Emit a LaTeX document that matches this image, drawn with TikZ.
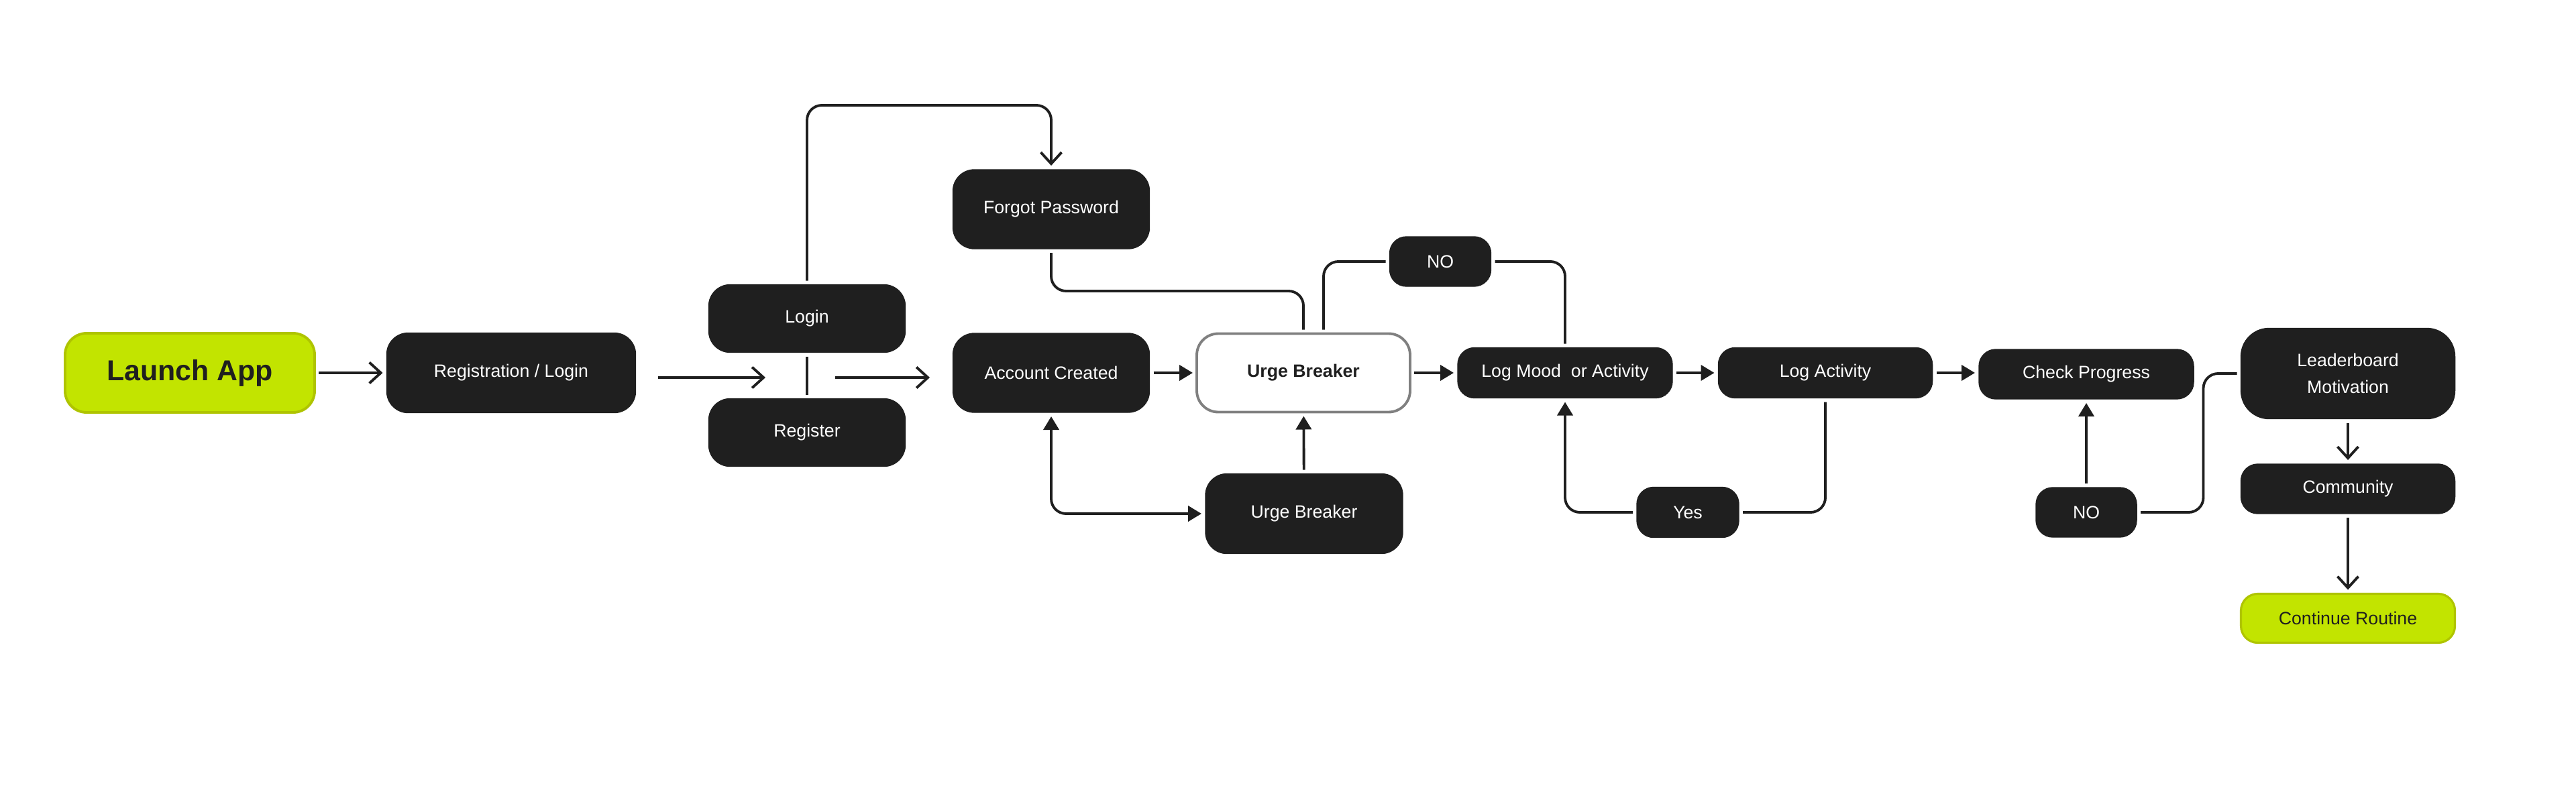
\documentclass[tikz,border=0pt]{standalone}
\usepackage{fontspec}
\setmainfont{Liberation Sans}
\usetikzlibrary{positioning}
\usetikzlibrary{arrows.meta}
\tikzset{
  font={\fontsize{7.6pt}{9pt}\selectfont}
}
\definecolor{boxDark}{HTML}{1F1F1F}
\definecolor{lime}{HTML}{C2E400}
\definecolor{limeEdge}{HTML}{AFC400}
\definecolor{edgeGray}{HTML}{808080}
\def\lineColor{boxDark}
\def\arc{0.22cm}
\tikzstyle{stepbox}=[rounded corners=0.32cm,fill=boxDark,draw=boxDark,text=white,minimum width=2.93cm,minimum height=1.18cm,inner sep=0pt,outer sep=0.06cm]
\tikzstyle{flatbox}=[stepbox,minimum width=3.19cm,minimum height=0.75cm,rounded corners=0.25cm]
\tikzstyle{smallbox}=[stepbox,minimum width=1.51cm,minimum height=0.74cm,rounded corners=0.25cm]
\tikzstyle{greenbox}=[stepbox,fill=lime,draw=limeEdge,line width=1.1pt,text=boxDark]
\tikzstyle{urgebox}=[stepbox,fill=white,draw=edgeGray,line width=1.1pt,text=boxDark,font={\fontsize{7.6pt}{9pt}\selectfont\bfseries}]
\tikzstyle{connection}=[line width=1.1pt,draw=\lineColor]
\tikzstyle{openflow}=[connection,-{Straight Barb[length=0.17cm,width=0.31cm]}]
\tikzstyle{fillflow}=[connection,-{Triangle[length=0.2cm,width=0.23cm]}]

\begin{document}
\begin{tikzpicture}
    \useasboundingbox (0,0) rectangle (38.4,-11.92);

    % Steps of the flow
    \node[greenbox,minimum width=3.72cm,font={\fontsize{12.2pt}{14pt}\selectfont\bfseries}] (launch) at (2.83,-5.56) {Launch App};
    \node[stepbox,minimum width=3.71cm,minimum height=1.19cm] (reglogin) at (7.62,-5.56) {Registration / Login};
    \node[stepbox,minimum height=1.01cm] (login) at (12.03,-4.75) {Login};
    \node[stepbox,minimum height=1.01cm] (register) at (12.03,-6.45) {Register};
    \node[stepbox] (forgot) at (15.67,-3.12) {Forgot Password};
    \node[stepbox] (created) at (15.67,-5.56) {Account Created};
    \node[urgebox,minimum width=3.18cm,minimum height=1.17cm] (urge) at (19.43,-5.56) {Urge Breaker};
    \node[stepbox,minimum width=2.94cm,minimum height=1.19cm] (urgelow) at (19.44,-7.66) {Urge Breaker};
    \node[smallbox] (nomood) at (21.47,-3.90) {NO};
    \node[flatbox,minimum width=3.20cm] (logmood) at (23.33,-5.56) {Log Mood\ \ or Activity};
    \node[flatbox] (logact) at (27.21,-5.56) {Log Activity};
    \node[smallbox,minimum width=1.52cm,minimum height=0.75cm] (yes) at (25.16,-7.64) {Yes};
    \node[flatbox,minimum width=3.20cm,minimum height=0.74cm] (progress) at (31.10,-5.58) {Check Progress};
    \node[smallbox,minimum width=1.50cm] (noprog) at (31.10,-7.64) {NO};
    \node[flatbox,minimum height=1.35cm,rounded corners=0.42cm,align=center,font={\fontsize{7.6pt}{11.4pt}\selectfont}] (leader) at (35.00,-5.57) {Leaderboard\\Motivation};
    \node[flatbox,minimum height=0.74cm] (community) at (35.00,-7.29) {Community};
    \node[greenbox,minimum width=3.19cm,minimum height=0.73cm,rounded corners=0.25cm,line width=0.9pt] (routine) at (35.00,-9.22) {Continue Routine};

    % Free ends of the split arrow
    \coordinate (gapA) at (9.81,-5.63);
    \coordinate (gapB) at (11.41,-5.63);
    \coordinate (gapC) at (12.45,-5.63);
    \coordinate (gapD) at (13.86,-5.63);

    % Draw connections
    \draw[openflow] (launch) -- (reglogin);
    \draw[openflow] (gapA) -- (gapB);
    \draw[openflow] (gapC) -- (gapD);
    \draw[connection] (login) -- (register);
    \draw[openflow,rounded corners=\arc] (login.north) |- ([yshift=0.9cm]forgot.north) -- (forgot.north);
    \draw[connection,rounded corners=\arc] (forgot.south) -- ++(0,-0.57) -| (urge.north);
    \draw[connection,rounded corners=\arc] ([xshift=0.3cm]urge.north) |- (nomood.west);
    \draw[connection,rounded corners=\arc] (nomood.east) -| (logmood.north);
    \draw[fillflow] (created) -- (urge);
    \draw[fillflow] (urge) -- (logmood);
    \draw[fillflow] (urgelow) -- (urge);
    \draw[connection,{Triangle[length=0.2cm,width=0.23cm]}-{Triangle[length=0.2cm,width=0.23cm]},rounded corners=\arc] (created.south) |- (urgelow.west);
    \draw[fillflow] (logmood) -- (logact);
    \draw[fillflow] (logact.east) -- (logact.east -| progress.west);
    \draw[connection,rounded corners=\arc] (logact.south) |- (yes.east);
    \draw[fillflow,rounded corners=\arc] (yes.west) -| (logmood.south);
    \draw[fillflow] (noprog) -- (progress);
    \draw[connection,rounded corners=\arc] (noprog.east) -| ([xshift=-0.5cm]leader.west) -- (leader.west);
    \draw[openflow] (leader) -- (community);
    \draw[openflow] (community) -- (routine);
\end{tikzpicture}
\end{document}
